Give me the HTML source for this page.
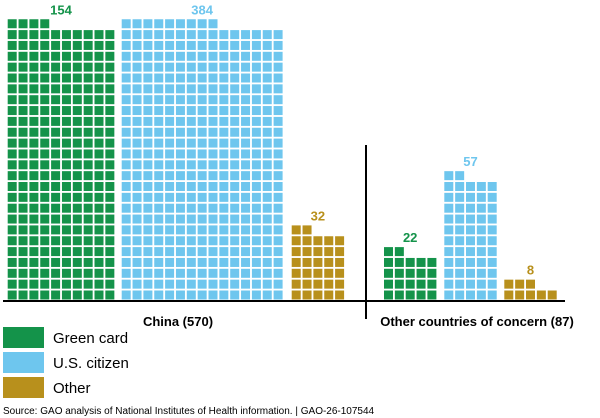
<!DOCTYPE html>
<html><head><meta charset="utf-8"><style>
body{margin:0;background:#fff;width:600px;height:418px;overflow:hidden;font-family:"Liberation Sans",Arial,sans-serif}
svg{display:block}
</style></head><body>
<svg id="chart" width="600" height="418" viewBox="0 0 600 418" xmlns="http://www.w3.org/2000/svg"></svg>
<script>
const groups = ["China (570)", "Other countries of concern (87)"];
const categories = ["Green card", "U.S. citizen", "Other"];
const labelValues = [[154, 384, 32], [22, 57, 8]];
// squares as drawn in the picture (China green card shows 254 squares)
const unitCounts = [[254, 384, 32], [22, 57, 8]];
const columnCounts = [[10, 15, 5], [5, 5, 5]];
const colors = ["#14934a", "#6ec6ee", "#b8901c"];

const svg = document.getElementById('chart');
const NS = "http://www.w3.org/2000/svg";
const pitch = 10.85, cell = 9, baseY = 299.5;
const barStartX = [[7.7, 121.7, 291.7], [384, 444.3, 504.3]];
function yRow(r){ return baseY - (r+1)*pitch + (pitch-cell); }
function xCol(g,k,c){ return barStartX[g][k] + c*pitch; }
function mk(tag, attrs){ const e=document.createElementNS(NS,tag); for(const k in attrs) e.setAttribute(k,attrs[k]); svg.appendChild(e); return e; }

for(let g=0; g<groups.length; g++){
  for(let k=0; k<categories.length; k++){
    const n = unitCounts[g][k], cols = columnCounts[g][k];
    for(let i=0;i<n;i++){
      const r = Math.floor(i/cols), c = i%cols;
      const rect = mk('rect',{x:xCol(g,k,c).toFixed(2), y:yRow(r).toFixed(2), width:cell, height:cell, fill:colors[k]});
      
      
    }
    const rows = Math.ceil(n/cols);
    const cx = barStartX[g][k] + (cols*pitch - (pitch-cell))/2;
    const t = mk('text',{x:cx, y:yRow(rows-1)-5, 'text-anchor':'middle', 'font-size':13, 'font-weight':'bold', fill:colors[k]});
    t.textContent = labelValues[g][k];
    
    
  }
}
const ax = mk('line',{x1:3,y1:301,x2:565,y2:301,stroke:'#000','stroke-width':2});


const dv = mk('line',{x1:366,y1:145,x2:366,y2:319,stroke:'#000','stroke-width':2});


const gx = [178, 477];
for(let g=0; g<groups.length; g++){
  const t = mk('text',{x:gx[g], y:326, 'text-anchor':'middle', 'font-size':13, 'font-weight':'bold', fill:'#000'});
  t.textContent = groups[g];
  
  
}
const legY = [327, 352, 377];
for(let k=0;k<categories.length;k++){
  const r = mk('rect',{x:3, y:legY[k], width:41, height:21, fill:colors[k]});
  
  
  const t = mk('text',{x:53, y:legY[k]+16, 'font-size':15, fill:'#000'});
  t.textContent = categories[k];
  
  
}
const s = mk('text',{x:3, y:414, 'font-size':10, fill:'#000'});
s.textContent = "Source: GAO analysis of National Institutes of Health information.  |  GAO-26-107544";


</script>
</body></html>
